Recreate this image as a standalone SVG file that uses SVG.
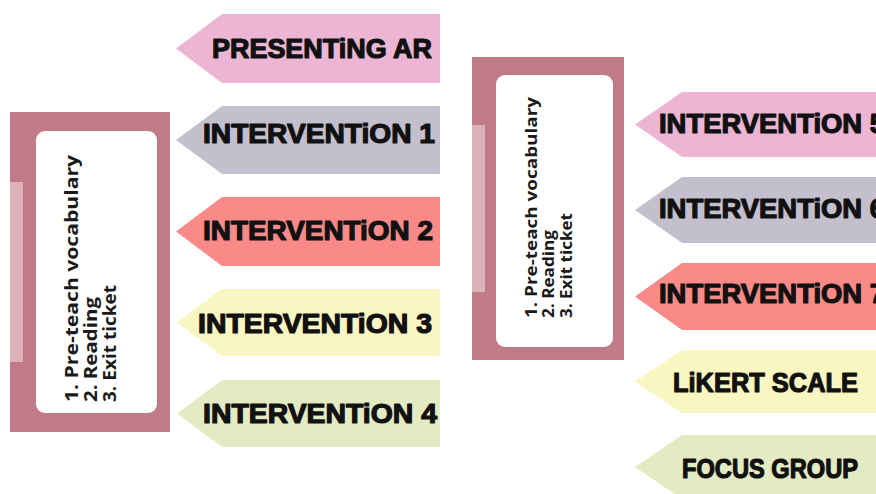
<svg xmlns="http://www.w3.org/2000/svg" width="876" height="494" viewBox="0 0 876 494">
<style>
.card{fill:#c17b88}
.tape{fill:#dcb1ba}
.inner{fill:#ffffff}
.ctext{font-family:"Open Sans","Noto Sans",sans-serif;font-weight:700;fill:#1a1a1a}
.lbl{font-family:"Liberation Sans",Arial,sans-serif;font-weight:bold;font-size:27px;fill:#111;stroke:#111;stroke-width:1.2px;stroke-linejoin:round}
.pink{fill:#ebb5d3}
.lav{fill:#c4bfcd}
.coral{fill:#fa8a87}
.yel{fill:#faf6c2}
.grn{fill:#e3ebc3}
</style>
<rect width="876" height="494" fill="#ffffff"/>

<g id="card-left">
<rect class="card" x="10" y="112" width="160" height="320"/>
<rect class="tape" x="10" y="182" width="13" height="180"/>
<rect class="inner" x="36" y="131" width="121" height="282" rx="9"/>
<g transform="translate(0,402) rotate(-90)">
<text class="ctext" font-size="18" x="0" y="78" textLength="247" lengthAdjust="spacingAndGlyphs">1. Pre-teach vocabulary</text>
<text class="ctext" font-size="18" x="0" y="97" textLength="105" lengthAdjust="spacingAndGlyphs">2. Reading</text>
<text class="ctext" font-size="18" x="0" y="116" textLength="117" lengthAdjust="spacingAndGlyphs">3. Exit ticket</text>
</g>
</g>

<g id="card-right">
<rect class="card" x="472" y="57" width="152" height="303"/>
<rect class="tape" x="472" y="125" width="13" height="167"/>
<rect class="inner" x="496" y="75" width="117" height="272" rx="9"/>
<g transform="translate(0,318) rotate(-90)">
<text class="ctext" font-size="16" x="0" y="537" textLength="221" lengthAdjust="spacingAndGlyphs">1. Pre-teach vocabulary</text>
<text class="ctext" font-size="16" x="0" y="554" textLength="88" lengthAdjust="spacingAndGlyphs">2. Reading</text>
<text class="ctext" font-size="16" x="0" y="572" textLength="105" lengthAdjust="spacingAndGlyphs">3. Exit ticket</text>
</g>
</g>

<g id="presenting-ar">
<polygon class="pink" points="176,48.5 222,14 440,14 440,83 222,83"/>
<text class="lbl" x="212" y="58" textLength="220" lengthAdjust="spacingAndGlyphs">PRESENTiNG AR</text>
</g>
<g id="intervention-1">
<polygon class="lav" points="176,140 222,106 440,106 440,174 222,174"/>
<text class="lbl" x="203" y="143" textLength="232" lengthAdjust="spacingAndGlyphs">INTERVENTiON 1</text>
</g>
<g id="intervention-2">
<polygon class="coral" points="176,231.5 222,197 440,197 440,266 222,266"/>
<text class="lbl" x="203" y="240" textLength="230" lengthAdjust="spacingAndGlyphs">INTERVENTiON 2</text>
</g>
<g id="intervention-3">
<polygon class="yel" points="177,322.5 222,289 440,289 440,356 222,356"/>
<text class="lbl" x="198" y="333" textLength="234" lengthAdjust="spacingAndGlyphs">INTERVENTiON 3</text>
</g>
<g id="intervention-4">
<polygon class="grn" points="177,413.5 222,380 440,380 440,447 222,447"/>
<text class="lbl" x="203" y="423" textLength="234" lengthAdjust="spacingAndGlyphs">INTERVENTiON 4</text>
</g>

<g id="intervention-5">
<polygon class="pink" points="635,124.5 682,92 890,92 890,157 682,157"/>
<text class="lbl" x="659" y="133" textLength="226" lengthAdjust="spacingAndGlyphs">INTERVENTiON 5</text>
</g>
<g id="intervention-6">
<polygon class="lav" points="635,210 682,177 890,177 890,243 682,243"/>
<text class="lbl" x="659" y="218" textLength="226" lengthAdjust="spacingAndGlyphs">INTERVENTiON 6</text>
</g>
<g id="intervention-7">
<polygon class="coral" points="635,296.5 682,263 890,263 890,330 682,330"/>
<text class="lbl" x="659" y="303" textLength="226" lengthAdjust="spacingAndGlyphs">INTERVENTiON 7</text>
</g>
<g id="likert-scale">
<polygon class="yel" points="635,381.5 682,350 890,350 890,413 682,413"/>
<text class="lbl" x="673" y="392" textLength="185" lengthAdjust="spacingAndGlyphs">LiKERT SCALE</text>
</g>
<g id="focus-group">
<polygon class="grn" points="635,467 682,435 890,435 890,499 682,499"/>
<text class="lbl" x="682" y="478" textLength="176" lengthAdjust="spacingAndGlyphs">FOCUS GROUP</text>
</g>
</svg>
